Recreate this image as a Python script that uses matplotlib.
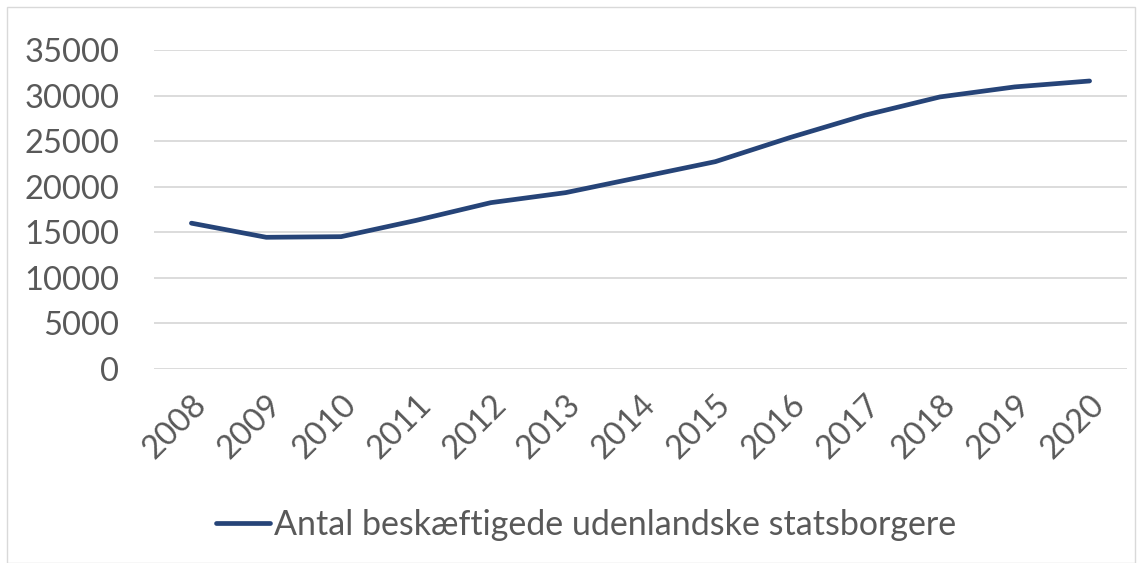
import matplotlib
matplotlib.use("Agg")
import matplotlib.pyplot as plt
from matplotlib.patches import Rectangle

years = ["2008", "2009", "2010", "2011", "2012", "2013", "2014",
         "2015", "2016", "2017", "2018", "2019", "2020"]
values = [16000, 14450, 14520, 16300, 18250, 19350, 21050,
          22750, 25400, 27850, 29850, 30950, 31600]
series_name = "Antal beskæftigede udenlandske statsborgere"
yticks = [0, 5000, 10000, 15000, 20000, 25000, 30000, 35000]

plt.rcParams['font.family'] = ['Lato', 'DejaVu Sans']
txt = '#595959'

fig = plt.figure(figsize=(11.42, 5.63), dpi=100)
ax = fig.add_axes([154/1142, 1-369/563, (1127-154)/1142, (369-50)/563])

x = list(range(len(years)))
ax.plot(x, values, color='#264478', lw=3.4, solid_capstyle='round',
        solid_joinstyle='round', label=series_name)

ax.set_xlim(-0.5, len(years)-0.5)
ax.set_ylim(0, 35000)
ax.set_yticks(yticks)
ax.set_yticklabels([str(v) for v in yticks], fontsize=23.5, color=txt)
ax.set_xticks(x)
ax.set_xticklabels(years, rotation=45, ha='right', rotation_mode='anchor',
                   fontsize=23.5, color=txt)
ax.tick_params(axis='both', length=0)
ax.tick_params(axis='y', pad=25)
ax.tick_params(axis='x', pad=15)
ax.grid(axis='y', color='#d9d9d9', lw=1.3)
ax.set_axisbelow(True)
for s in ax.spines.values():
    s.set_visible(False)

leg = fig.legend(loc='center', bbox_to_anchor=(586/1142, 1-525/563),
                 frameon=False, fontsize=24.5, handlelength=1.6,
                 handletextpad=0.1, labelcolor=txt)

fig.patches.append(Rectangle((7/1142, 0), 1-14/1142, 1-7/563,
                             transform=fig.transFigure, fill=False,
                             edgecolor='#d9d9d9', lw=1))

fig.savefig("out.png", dpi=100)
